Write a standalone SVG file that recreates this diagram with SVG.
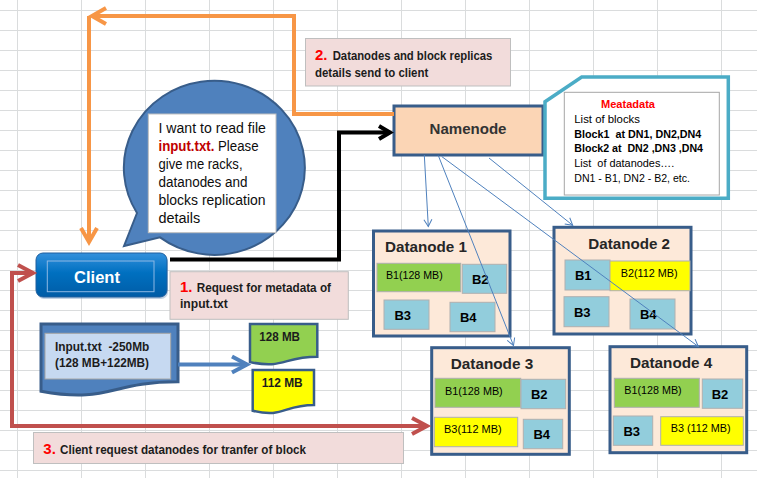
<svg xmlns="http://www.w3.org/2000/svg" width="757" height="478" viewBox="0 0 757 478">
<defs>
<style>
text { font-family: "Liberation Sans", Arial, sans-serif; }
.grid { stroke:#DADCDD; stroke-width:1; fill:none; }
.pink { fill:#F2DCDB; stroke:#BFBFBF; stroke-width:1; }
.lbl { font-size:13px; font-weight:bold; fill:#1C1C1C; }
.num { font-size:15px; font-weight:bold; fill:#FF0000; }
.dn { fill:#FDE9D9; stroke:#385D8A; stroke-width:3; }
.dnt { font-size:15px; font-weight:bold; fill:#262626; }
.bb { fill:#92CDDC; stroke:#B0B0B0; stroke-width:1; }
.bg { fill:#92D050; stroke:#B0B0B0; stroke-width:1; }
.by { fill:#FFFF00; stroke:#B0B0B0; stroke-width:1; }
.bl { font-size:13px; font-weight:bold; fill:#000; text-anchor:middle; }
.bs { font-size:11.5px; fill:#000; }
.meta { font-size:11px; fill:#000; white-space:pre; }
.bub { font-size:14px; fill:#0D0D0D; }
.doc { font-size:12.5px; font-weight:bold; fill:#1C1C1C; }
.line { fill:none; stroke-linejoin:miter; }
</style>
<marker id="arrOrange" markerUnits="userSpaceOnUse" viewBox="-18 -12 24 24" refX="0" refY="0" markerWidth="24" markerHeight="24" orient="auto">
  <path d="M-14,-8 L0,0 L-14,8" fill="none" stroke="#F79646" stroke-width="4"/>
</marker>
<marker id="arrBlack" markerUnits="userSpaceOnUse" viewBox="-16 -10 22 20" refX="0" refY="0" markerWidth="22" markerHeight="20" orient="auto">
  <path d="M-11,-6.5 L0,0 L-11,6.5" fill="none" stroke="#000" stroke-width="4"/>
</marker>
<marker id="arrRed" markerUnits="userSpaceOnUse" viewBox="-18 -12 24 24" refX="0" refY="0" markerWidth="24" markerHeight="24" orient="auto-start-reverse">
  <path d="M-15,-8 L0,0 L-15,8" fill="none" stroke="#C0504D" stroke-width="4"/>
</marker>
<marker id="arrBlueThick" markerUnits="userSpaceOnUse" viewBox="-18 -12 24 24" refX="0" refY="0" markerWidth="24" markerHeight="24" orient="auto">
  <path d="M-15,-8 L0,0 L-15,8" fill="none" stroke="#4F81BD" stroke-width="4"/>
</marker>
<marker id="arrBlueThin" markerUnits="userSpaceOnUse" viewBox="-10 -6 12 12" refX="0" refY="0" markerWidth="12" markerHeight="12" orient="auto">
  <path d="M-7,-4 L0,0 L-7,4" fill="none" stroke="#4F81BD" stroke-width="1"/>
</marker>
<linearGradient id="clientGrad" x1="0" y1="0" x2="0" y2="1">
  <stop offset="0" stop-color="#3390DC"/>
  <stop offset="0.45" stop-color="#0070C0"/>
  <stop offset="1" stop-color="#005CA6"/>
</linearGradient>
</defs>

<rect x="0" y="0" width="757" height="478" fill="#FFFFFF"/>
<path class="grid" d="M17.5,0V478 M81.5,0V478 M145.5,0V478 M209.5,0V478 M273.5,0V478 M337.5,0V478 M401.5,0V478 M465.5,0V478 M529.5,0V478 M593.5,0V478 M657.5,0V478 M721.5,0V478 M0,10.5H757 M0,30.5H757 M0,50.5H757 M0,70.5H757 M0,90.5H757 M0,110.5H757 M0,130.5H757 M0,150.5H757 M0,170.5H757 M0,190.5H757 M0,210.5H757 M0,230.5H757 M0,250.5H757 M0,270.5H757 M0,290.5H757 M0,310.5H757 M0,330.5H757 M0,350.5H757 M0,370.5H757 M0,390.5H757 M0,410.5H757 M0,430.5H757 M0,450.5H757 M0,470.5H757"/>

<g id="label2">
  <rect class="pink" x="305.5" y="38.5" width="205" height="47.5"/>
  <text class="num" x="315" y="60">2.</text>
  <text class="lbl" x="332.7" y="60" textLength="159.6" lengthAdjust="spacingAndGlyphs">Datanodes and block replicas</text>
  <text class="lbl" x="315" y="77" textLength="113.3" lengthAdjust="spacingAndGlyphs">details send to client</text>
</g>

<g id="label1">
  <rect class="pink" x="170" y="271.7" width="178.3" height="47.6"/>
  <text class="num" x="180" y="291.5">1.</text>
  <text class="lbl" x="196.7" y="291.5" textLength="134.3" lengthAdjust="spacingAndGlyphs">Request for metadata of</text>
  <text class="lbl" x="180" y="307.7" textLength="47.7" lengthAdjust="spacingAndGlyphs">input.txt</text>
</g>

<g id="label3">
  <rect class="pink" x="33.5" y="432.5" width="370" height="31"/>
  <text class="num" x="43.3" y="454">3.</text>
  <text class="lbl" x="60" y="454" textLength="246" lengthAdjust="spacingAndGlyphs">Client request datanodes for tranfer of block</text>
</g>

<g id="speech-bubble">
  <path d="M137,213 L124,246 L160,237.4 A90.5 87 0 1 0 137,213 Z" fill="#4F81BD" stroke="#385D8A" stroke-width="2"/>
  <rect x="148.3" y="114" width="127.7" height="118.7" fill="#FFFFFF" stroke="#BFBFBF" stroke-width="1"/>
  <text class="bub" x="158.5" y="133" textLength="107.4" lengthAdjust="spacingAndGlyphs">I want to read file</text>
  <text class="bub" x="158.5" y="151" textLength="100" lengthAdjust="spacingAndGlyphs"><tspan fill="#C00000" font-weight="bold">input.txt.</tspan> Please</text>
  <text class="bub" x="158.5" y="169" textLength="84" lengthAdjust="spacingAndGlyphs">give me racks,</text>
  <text class="bub" x="158.5" y="187" textLength="89" lengthAdjust="spacingAndGlyphs">datanodes and</text>
  <text class="bub" x="158.5" y="205" textLength="107" lengthAdjust="spacingAndGlyphs">blocks replication</text>
  <text class="bub" x="158.5" y="223" textLength="41.7" lengthAdjust="spacingAndGlyphs">details</text>
</g>

<g id="client">
  <rect x="37" y="255" width="131" height="44" rx="7" fill="#7A9CC0" opacity="0.45"/>
  <rect x="36" y="253" width="131" height="44" rx="7" fill="url(#clientGrad)" stroke="#1F5F9E" stroke-width="1"/>
  <rect x="47.3" y="261" width="106.7" height="30.7" fill="none" stroke="#8DB8E4" stroke-width="1"/>
  <text x="97" y="283" text-anchor="middle" font-size="16.5" font-weight="bold" fill="#FFFFFF" textLength="46" lengthAdjust="spacingAndGlyphs">Client</text>
</g>

<g id="namenode">
  <rect x="394" y="106" width="149" height="49" fill="#FBD5B5" stroke="#385D8A" stroke-width="3"/>
  <text x="468" y="134.3" text-anchor="middle" font-size="15" font-weight="bold" fill="#333333" textLength="77" lengthAdjust="spacingAndGlyphs">Namenode</text>
</g>

<g id="metadata">
  <path d="M545,101.7 L581.7,77 H728.3 V198.3 H545 Z" fill="#FFFFFF" stroke="#4BACC6" stroke-width="3.5"/>
  <rect x="564.3" y="92.3" width="155" height="102.7" fill="#FFFFFF" stroke="#A6A6A6" stroke-width="1"/>
  <text class="meta" x="601" y="108" style="fill:#FF0000" font-weight="bold" textLength="54" lengthAdjust="spacingAndGlyphs">Meatadata</text>
  <text class="meta" x="574.3" y="123" textLength="65.7" lengthAdjust="spacingAndGlyphs">List of blocks</text>
  <text class="meta" x="574.3" y="137.5" font-weight="bold" textLength="127" lengthAdjust="spacingAndGlyphs">Block1  at DN1, DN2,DN4</text>
  <text class="meta" x="574.3" y="152" font-weight="bold" textLength="128.7" lengthAdjust="spacingAndGlyphs">Block2 at  DN2 ,DN3 ,DN4</text>
  <text class="meta" x="574.3" y="167" textLength="100" lengthAdjust="spacingAndGlyphs">List  of datanodes….</text>
  <text class="meta" x="574.3" y="182" textLength="115.7" lengthAdjust="spacingAndGlyphs">DN1 - B1, DN2 - B2, etc.</text>
</g>

<g id="datanode1">
  <rect class="dn" x="373.5" y="231" width="136.5" height="105"/>
  <text class="dnt" x="385" y="252" textLength="82" lengthAdjust="spacingAndGlyphs">Datanode 1</text>
  <rect class="bg" x="377" y="263.3" width="83.7" height="28.4"/>
  <text class="bs" x="386" y="279" textLength="56.7" lengthAdjust="spacingAndGlyphs">B1(128 MB)</text>
  <rect class="bb" x="462.3" y="264.3" width="44.4" height="29"/>
  <text class="bl" x="480.3" y="284">B2</text>
  <rect class="bb" x="384" y="300" width="45" height="29.3"/>
  <text class="bl" x="402.7" y="320">B3</text>
  <rect class="bb" x="450" y="302.3" width="45" height="29.4"/>
  <text class="bl" x="468.3" y="322">B4</text>
</g>

<g id="datanode2">
  <rect class="dn" x="554" y="227.3" width="137" height="106.7"/>
  <text class="dnt" x="588.3" y="249.3" textLength="81.7" lengthAdjust="spacingAndGlyphs">Datanode 2</text>
  <rect class="bb" x="565" y="260" width="45" height="30"/>
  <text class="bl" x="583.3" y="280">B1</text>
  <rect class="by" x="610" y="261" width="80" height="29.7"/>
  <text class="bs" x="620.7" y="277.3" textLength="57" lengthAdjust="spacingAndGlyphs">B2(112 MB)</text>
  <rect class="bb" x="564" y="296.7" width="45" height="30"/>
  <text class="bl" x="582.3" y="316.7">B3</text>
  <rect class="bb" x="630" y="299" width="45" height="30"/>
  <text class="bl" x="648.3" y="319">B4</text>
</g>

<g id="datanode3">
  <rect class="dn" x="431.7" y="347.7" width="137.6" height="106.6"/>
  <text class="dnt" x="450.7" y="369" textLength="82.6" lengthAdjust="spacingAndGlyphs">Datanode 3</text>
  <rect class="bg" x="435" y="378.3" width="85.7" height="29"/>
  <text class="bs" x="445" y="394.7" textLength="57.7" lengthAdjust="spacingAndGlyphs">B1(128 MB)</text>
  <rect class="bb" x="521" y="379.3" width="44.7" height="29.4"/>
  <text class="bl" x="539.3" y="399">B2</text>
  <rect class="by" x="434.3" y="417.3" width="83.4" height="29.4"/>
  <text class="bs" x="444" y="433.3" textLength="57.7" lengthAdjust="spacingAndGlyphs">B3(112 MB)</text>
  <rect class="bb" x="523.3" y="419.3" width="39.4" height="29.4"/>
  <text class="bl" x="541.7" y="439">B4</text>
</g>

<g id="datanode4">
  <rect class="dn" x="610" y="346.7" width="136.7" height="106"/>
  <text class="dnt" x="630" y="368.3" textLength="82.3" lengthAdjust="spacingAndGlyphs">Datanode 4</text>
  <rect class="bg" x="614.3" y="378.3" width="85" height="29"/>
  <text class="bs" x="624.3" y="394" textLength="57.4" lengthAdjust="spacingAndGlyphs">B1(128 MB)</text>
  <rect class="bb" x="702.3" y="379" width="40.4" height="29.3"/>
  <text class="bl" x="720" y="399">B2</text>
  <rect class="bb" x="613.3" y="416" width="39.4" height="29.3"/>
  <text class="bl" x="631.7" y="435.7">B3</text>
  <rect class="by" x="660.7" y="416.7" width="82.6" height="28.6"/>
  <text class="bs" x="670.7" y="432.3" textLength="60" lengthAdjust="spacingAndGlyphs">B3 (112 MB)</text>
</g>

<g id="input-file">
  <path d="M41,324 H178 V381.7 C109.5,381.7 109.5,403.7 41,391.2 Z" fill="#4F81BD" stroke="#385D8A" stroke-width="3"/>
  <rect x="45" y="333.3" width="125.7" height="45.7" fill="#C6D9F1" stroke="#A6A6A6" stroke-width="1"/>
  <text class="doc" x="55" y="351" textLength="94.3" lengthAdjust="spacingAndGlyphs" style="white-space:pre">Input.txt  -250Mb</text>
  <text class="doc" x="55" y="367" textLength="94" lengthAdjust="spacingAndGlyphs">(128 MB+122MB)</text>
</g>

<g id="block-128">
  <path d="M250,324 H317.3 V356.7 C283.6,356.7 283.6,369.2 250,362.1 Z" fill="#92D050" stroke="#385D8A" stroke-width="2.5"/>
  <text class="doc" x="259.3" y="341" textLength="40.7" lengthAdjust="spacingAndGlyphs">128 MB</text>
</g>

<g id="block-112">
  <path d="M252.7,370 H314 V405 C283.4,405 283.4,418.3 252.7,410.7 Z" fill="#FFFF00" stroke="#385D8A" stroke-width="2.5"/>
  <text class="doc" x="261.7" y="387" textLength="41" lengthAdjust="spacingAndGlyphs">112 MB</text>
</g>

<g id="connectors">
  <path class="line" d="M394,114 H294 V16 H92" stroke="#F79646" stroke-width="4" marker-end="url(#arrOrange)"/>
  <path class="line" d="M89,16 V242" stroke="#F79646" stroke-width="4" marker-end="url(#arrOrange)"/>
  <path class="line" d="M170,259.5 H339 V132.5 H390" stroke="#000000" stroke-width="4" marker-end="url(#arrBlack)"/>
  <path class="line" d="M33,273 H12 V426 H427" stroke="#C0504D" stroke-width="4" marker-start="url(#arrRed)" marker-end="url(#arrRed)"/>
  <path class="line" d="M178,364.5 H247" stroke="#4F81BD" stroke-width="4" marker-end="url(#arrBlueThick)"/>
  <path class="line" d="M424.3,155 L428.3,226.5" stroke="#4F81BD" stroke-width="1" marker-end="url(#arrBlueThin)"/>
  <path class="line" d="M438.3,155.5 L513.5,345.5" stroke="#4F81BD" stroke-width="1" marker-end="url(#arrBlueThin)"/>
  <path class="line" d="M441.7,156.5 L698.3,346.5" stroke="#4F81BD" stroke-width="1" marker-end="url(#arrBlueThin)"/>
  <path class="line" d="M489,158 L572.7,225.3" stroke="#4F81BD" stroke-width="1" marker-end="url(#arrBlueThin)"/>
</g>
</svg>
